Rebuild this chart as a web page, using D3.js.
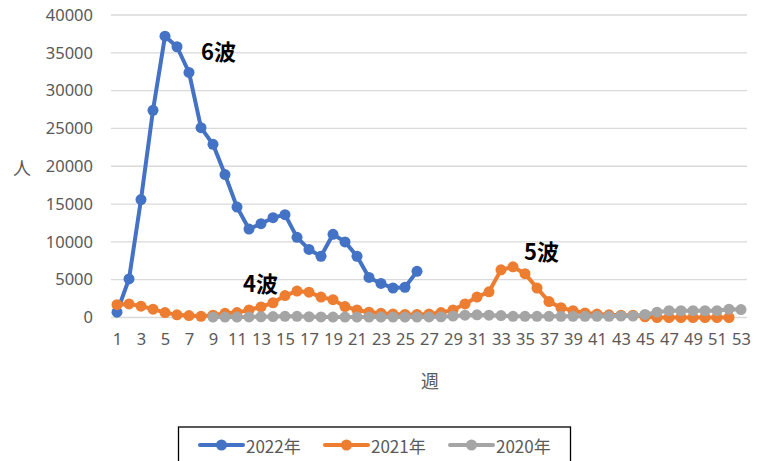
<!DOCTYPE html>
<html>
<head>
<meta charset="utf-8">
<script src="https://cdn.jsdelivr.net/npm/d3@7"></script>
<style>
  body { margin: 0; background: #fff; }
  svg { display: block; }
</style>
</head>
<body>
<div id="chart"></div>
<script>
// weeks 1..53
var weeks = d3.range(1, 54);
var xTickLabels = d3.range(1, 54, 2);
var yTicks = [0, 5000, 10000, 15000, 20000, 25000, 30000, 35000, 40000];

// 2022: weeks 1-26
var start2022 = 1;
var cases2022 = [700, 5100, 15600, 27400, 37200, 35800, 32400, 25100, 22900, 18900,
                 14600, 11700, 12400, 13200, 13600, 10600, 9000, 8100, 11000, 10000,
                 8100, 5300, 4500, 3900, 4000, 6100];

// 2021: weeks 1-52
var start2021 = 1;
var cases2021 = [1700, 1800, 1500, 1100, 650, 350, 250, 150, 300, 550,
                 650, 1000, 1400, 1950, 2900, 3500, 3350, 2700, 2350, 1450,
                 1000, 700, 550, 450, 400, 400, 450, 650, 1000, 1800,
                 2700, 3400, 6300, 6700, 5800, 3900, 2100, 1300, 900, 600,
                 450, 350, 300, 300, 100, 0, 0, 0, 0, 0,
                 0, 0];

// 2020: weeks 9-53
var start2020 = 9;
var cases2020 = [50, 50, 60, 80, 100, 120, 150, 150, 100, 80,
                 60, 50, 50, 50, 50, 50, 50, 50, 80, 100,
                 200, 300, 350, 300, 250, 150, 150, 150, 150, 150,
                 150, 150, 150, 150, 200, 200, 400, 700, 900, 900,
                 900, 900, 900, 1100, 1050];

var seriesNames = ["2022年", "2021年", "2020年"];
var seriesColors = ["#4472C4", "#ED7D31", "#A5A5A5"];

function toPoints(start, vals) {
  return vals.map(function (v, i) { return { week: start + i, value: v }; });
}
var series = [
  toPoints(start2022, cases2022),
  toPoints(start2021, cases2021),
  toPoints(start2020, cases2020)
];

var width = 763, height = 461;
var svg = d3.select("#chart").append("svg")
    .attr("width", width)
    .attr("height", height);

var x = d3.scalePoint()
    .domain(weeks)
    .range([111, 747])
    .padding(0.5);

var y = d3.scaleLinear()
    .domain([0, 40000])
    .range([317.5, 15]);

// gridlines
svg.append("g")
    .selectAll("line")
    .data(yTicks)
    .enter()
    .append("line")
    .attr("x1", 111)
    .attr("x2", 747)
    .attr("y1", function (d) { return y(d); })
    .attr("y2", function (d) { return y(d); })
    .attr("stroke", "#D9D9D9")
    .attr("stroke-width", 1.3);

// y axis labels
var yAxis = svg.append("g")
    .attr("transform", "translate(101,0)")
    .call(d3.axisLeft(y).tickValues(yTicks).tickFormat(d3.format("d")).tickSize(0).tickPadding(8));
yAxis.select(".domain").remove();
yAxis.selectAll("text")
    .attr("fill", "#595959")
    .style("font-family", "'Noto Sans', sans-serif")
    .style("font-size", "16.5px");

// x axis labels
var xAxis = svg.append("g")
    .attr("transform", "translate(0,330)")
    .call(d3.axisBottom(x).tickValues(xTickLabels).tickSize(0).tickPadding(3));
xAxis.select(".domain").remove();
xAxis.selectAll("text")
    .attr("fill", "#595959")
    .style("font-family", "'Noto Sans', sans-serif")
    .style("font-size", "16.5px");

// axis titles
svg.append("text")
    .attr("x", 22)
    .attr("y", 167)
    .attr("text-anchor", "middle")
    .attr("dominant-baseline", "central")
    .attr("fill", "#595959")
    .style("font-family", "'Noto Sans CJK JP', sans-serif")
    .style("font-size", "18px")
    .text("人");

svg.append("text")
    .attr("x", 430)
    .attr("y", 380)
    .attr("text-anchor", "middle")
    .attr("dominant-baseline", "central")
    .attr("fill", "#595959")
    .style("font-family", "'Noto Sans CJK JP', sans-serif")
    .style("font-size", "18px")
    .text("週");

// series lines + markers
var line = d3.line()
    .x(function (d) { return x(d.week); })
    .y(function (d) { return y(d.value); });

series.forEach(function (pts, i) {
  var g = svg.append("g");
  g.append("path")
      .datum(pts)
      .attr("d", line)
      .attr("fill", "none")
      .attr("stroke", seriesColors[i])
      .attr("stroke-width", 4)
      .attr("stroke-linejoin", "round")
      .attr("stroke-linecap", "round");
  g.selectAll("circle")
      .data(pts)
      .enter()
      .append("circle")
      .attr("cx", function (d) { return x(d.week); })
      .attr("cy", function (d) { return y(d.value); })
      .attr("r", 5.5)
      .attr("fill", seriesColors[i]);
});

// wave labels
var waveLabels = [
  { text: "6波", week: 8, value: 35400, dx: 0 },
  { text: "4波", week: 12, value: 4700, dx: -6 },
  { text: "5波", week: 35, value: 8900, dx: -1 }
];
svg.append("g")
    .selectAll("text")
    .data(waveLabels)
    .enter()
    .append("text")
    .attr("x", function (d) { return x(d.week) + d.dx; })
    .attr("y", function (d) { return y(d.value); })
    .attr("dominant-baseline", "central")
    .attr("fill", "#000")
    .style("font-family", "'Noto Sans CJK JP', sans-serif")
    .style("font-weight", "bold")
    .style("font-size", "22px")
    .text(function (d) { return d.text; });

// legend
var legend = svg.append("g");
legend.append("rect")
    .attr("x", 178.5)
    .attr("y", 427)
    .attr("width", 392)
    .attr("height", 60)
    .attr("fill", "none")
    .attr("stroke", "#000")
    .attr("stroke-width", 1.3);

var legendX = [200, 325, 450];
seriesNames.forEach(function (name, i) {
  var lg = legend.append("g").attr("transform", "translate(" + legendX[i] + ",445)");
  lg.append("line")
      .attr("x1", 0).attr("x2", 43)
      .attr("stroke", seriesColors[i])
      .attr("stroke-width", 4)
      .attr("stroke-linecap", "round");
  lg.append("circle")
      .attr("cx", 21.5)
      .attr("r", 5.5)
      .attr("fill", seriesColors[i]);
  lg.append("text")
      .attr("x", 46)
      .attr("dominant-baseline", "central")
      .attr("fill", "#595959")
      .style("font-family", "'Noto Sans CJK JP', sans-serif")
      .style("font-size", "17px")
      .text(name);
});
</script>
</body>
</html>
